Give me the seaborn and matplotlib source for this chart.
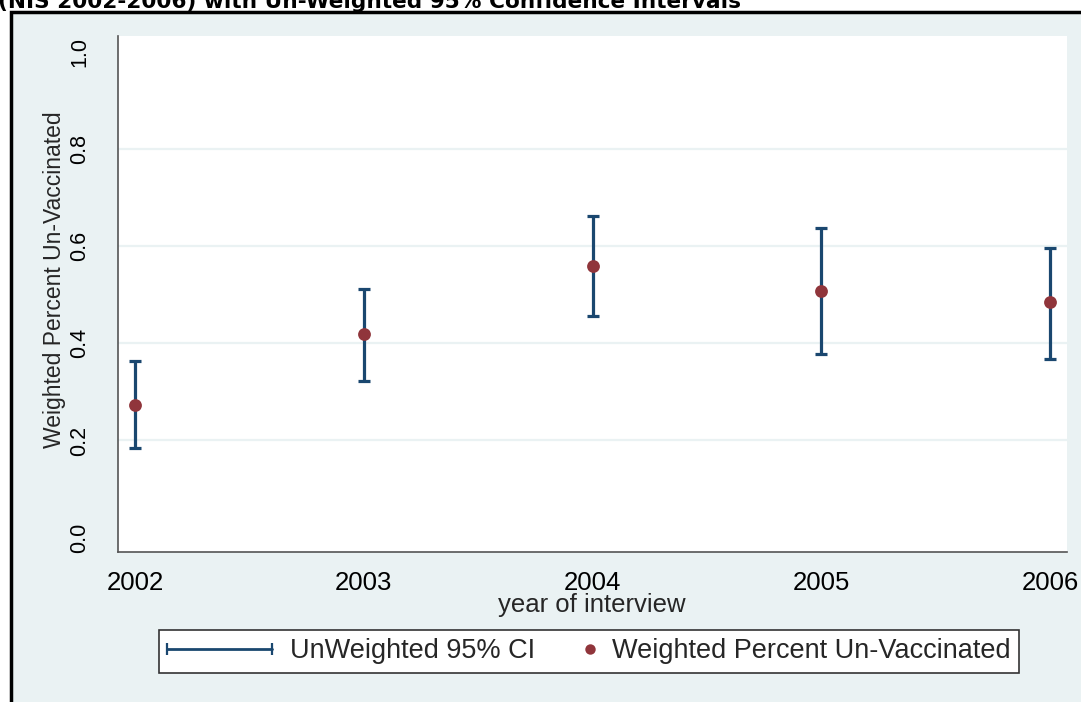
import numpy as np
import pandas as pd
import matplotlib
matplotlib.use("Agg")
import matplotlib.pyplot as plt
import seaborn as sns
from matplotlib.lines import Line2D
from matplotlib.patches import Rectangle
from matplotlib.legend_handler import HandlerLine2D, HandlerBase

# ---- data ----
years = [2002, 2003, 2004, 2005, 2006]
weighted_pct = [0.274, 0.418, 0.559, 0.508, 0.484]
ci_lower = [0.184, 0.323, 0.456, 0.378, 0.368]
ci_upper = [0.364, 0.512, 0.662, 0.638, 0.595]
y_ticks = [0.0, 0.2, 0.4, 0.6, 0.8, 1.0]
y_tick_labels = ["0.0", "0.2", "0.4", "0.6", "0.8", "1.0"]
title_text = "(NIS 2002-2006) with Un-Weighted 95% Confidence Intervals"
x_label = "year of interview"
y_label = "Weighted Percent Un-Vaccinated"
ci_label = "UnWeighted 95% CI"
pt_label = "Weighted Percent Un-Vaccinated"

df = pd.DataFrame({"year": years, "pct": weighted_pct,
                   "lo": ci_lower, "hi": ci_upper})

sns.set_style("white")
plt.rcParams["font.family"] = ["Liberation Sans", "DejaVu Sans"]

BG = "#EAF2F3"
NAVY = "#1A476F"
MAROON = "#90353B"

W, H = 1081, 702
fig = plt.figure(figsize=(W / 100, H / 100), dpi=100, facecolor="white")

# outer graph region with black frame (top/left visible)
bgrect = Rectangle((10.5 / W, -0.1), 1.2, 1.1 - 11.5 / H,
                   transform=fig.transFigure, facecolor=BG,
                   edgecolor="black", linewidth=2.5, zorder=-5)
fig.patches.append(bgrect)

# cropped title at the very top
fig.text(-2 / W, 1 - 8.5 / H, title_text, fontsize=15.6, fontweight="bold",
         family=["DejaVu Sans"], ha="left", va="baseline", color="black")

ax = fig.add_axes([117.7 / W, 1 - 552 / H, (1066.7 - 117.7) / W, (552 - 36) / H])
ax.set_facecolor("white")

# grid lines at interior ticks
for g in y_ticks[1:-1]:
    ax.axhline(g, color=BG, linewidth=1.6, zorder=0)

# CI bars
mid = (df["lo"] + df["hi"]) / 2
err = (df["hi"] - df["lo"]) / 2
ax.errorbar(df["year"], mid, yerr=err, fmt="none", ecolor=NAVY,
            elinewidth=2.3, capsize=4.6, capthick=2.3, zorder=2)

# points
sns.scatterplot(data=df, x="year", y="pct", ax=ax, color=MAROON, s=85,
                edgecolor=MAROON, linewidth=0, zorder=3, legend=False)

ax.set_xlim(2002 - 0.0757, 2006 + 0.073)
ax.set_ylim(-0.0294, 1.032)
ax.set_xticks(years)
ax.set_xticklabels([str(y) for y in years])
ax.set_yticks(y_ticks)
ax.set_yticklabels(y_tick_labels, rotation=90, va="center")

for side in ["top", "right"]:
    ax.spines[side].set_visible(False)
for side in ["left", "bottom"]:
    ax.spines[side].set_color("#555555")
    ax.spines[side].set_linewidth(1.2)

ax.tick_params(axis="both", which="major", direction="out", length=7.5,
               width=1.0, color="#555555", labelcolor="black")
ax.tick_params(axis="x", pad=6, labelsize=18.5)
ax.tick_params(axis="y", pad=12, labelsize=15.5)

ax.set_xlabel(x_label, fontsize=18.5)
ax.xaxis.label.set_va("center")
ax.xaxis.set_label_coords(0.5, (552 - 605) / 516)
ax.set_ylabel(y_label, fontsize=16.5)
ax.yaxis.label.set_va("center")
ax.yaxis.set_label_coords((55 - 117.7) / 949, (552 - 280) / 516)


class DotHandler(HandlerBase):
    def create_artists(self, legend, orig_handle, xdescent, ydescent,
                       width, height, fontsize, trans):
        l = Line2D([width - xdescent - 3], [height / 2 - ydescent],
                   marker="o", linestyle="none", color=MAROON,
                   markersize=7.5, markeredgewidth=0)
        l.set_transform(trans)
        return [l]


ci_handle = Line2D([], [], color=NAVY, linewidth=2.0, marker="|",
                   markersize=8, markeredgewidth=1.6)
pt_handle = Line2D([], [], color=MAROON, marker="o", linestyle="none")

leg_fs = 19.5
fs_px = leg_fs * 100 / 72
leg = fig.legend([ci_handle, pt_handle], [ci_label, pt_label],
                 handler_map={ci_handle: HandlerLine2D(numpoints=2, marker_pad=0),
                              pt_handle: DotHandler()},
                 loc="center", bbox_to_anchor=(588.5 / W, 1 - 651.5 / H),
                 ncol=2, fontsize=leg_fs, frameon=True, fancybox=False,
                 handlelength=105 / fs_px, handletextpad=18 / fs_px,
                 columnspacing=-46 / fs_px,
                 borderpad=0.3, edgecolor="#333333", facecolor="white",
                 framealpha=1)
leg.get_frame().set_linewidth(1.2)

fig.savefig("out.png", dpi=100, facecolor=fig.get_facecolor())
